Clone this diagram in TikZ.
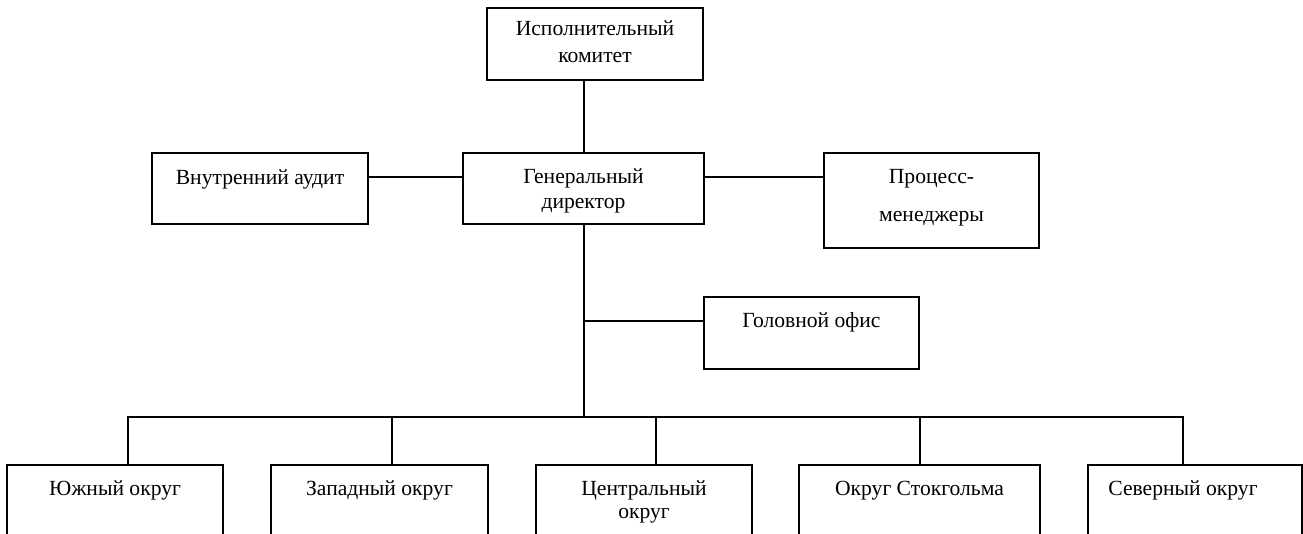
\documentclass[tikz,border=0pt]{standalone}
\usepackage{fontspec}
\setmainfont{Liberation Serif}
\begin{document}
\begin{tikzpicture}[x=0.75pt,y=-0.75pt,
  bx/.style 2 args={draw, line width=1.5pt, minimum width=#1*0.75pt, minimum height=#2*0.75pt, inner sep=0pt},
  txt/.style={font=\fontsize{16.2}{18.75}\selectfont, align=center, anchor=base, inner sep=0pt},
  ln/.style={line width=1.5pt}]
\clip (0,0) rectangle (1303,533);
% boxes
\node[bx={216}{72}] (ik) at (595,44) {};
\node[bx={241}{71}] (gd) at (583.5,188.5) {};
\node[bx={216}{71}] (ia) at (260,188.5) {};
\node[bx={215}{95}] (pm) at (931.5,200.5) {};
\node[bx={215}{72}] (ho) at (811.5,333) {};
\node[bx={216}{100}] (s1) at (115,515) {};
\node[bx={217}{100}] (s2) at (379.5,515) {};
\node[bx={216}{100}] (s3) at (644,515) {};
\node[bx={241}{100}] (s4) at (919.5,515) {};
\node[bx={214}{100}] (s5) at (1195,515) {};
% texts (base anchor = baseline of the last line)
\node[txt, font=\fontsize{16.2}{20}\selectfont] (ikt) at (595,62) {Исполнительный\\комитет};
\node[txt] (gdt) at (583.5,208) {Генеральный\\директор};
\node[txt] (iat) at (260,184) {Внутренний аудит};
\node[txt, font=\fontsize{16.2}{28.5}\selectfont] (pmt) at (931.5,221) {Процесс-\\менеджеры};
\node[txt] (hot) at (811.5,327) {Головной офис};
\node[txt] (s1t) at (115,495) {Южный округ};
\node[txt] (s2t) at (379.5,495) {Западный округ};
\node[txt, font=\fontsize{16.2}{17.25}\selectfont] (s3t) at (644,518) {Центральный\\округ};
\node[txt] (s4t) at (919.5,495) {Округ Стокгольма};
\node[txt] (s5t) at (1183,495) {Северный округ};
% helper coordinates
\coordinate (r1) at (0,177);
\coordinate (r2) at (0,321);
\coordinate (d1) at (128,417);
\coordinate (d2) at (392,417);
\coordinate (d3) at (656,417);
\coordinate (d4) at (920,417);
\coordinate (d5) at (1183,417);
% connectors
\draw[ln] (gd.north |- ik.south) -- (gd.north);
\draw[ln] (ia.east |- r1) -- (gd.west |- r1);
\draw[ln] (gd.east |- r1) -- (pm.west |- r1);
\draw[ln] (gd.south) -- (gd.south |- d1);
\draw[ln] (gd.south |- r2) -- (ho.west |- r2);
\draw[ln] (d1 |- s1.north) -- (d1) -- (d5) -- (d5 |- s5.north);
\draw[ln] (d2) -- (d2 |- s2.north);
\draw[ln] (d3) -- (d3 |- s3.north);
\draw[ln] (d4) -- (d4 |- s4.north);
\end{tikzpicture}
\end{document}
